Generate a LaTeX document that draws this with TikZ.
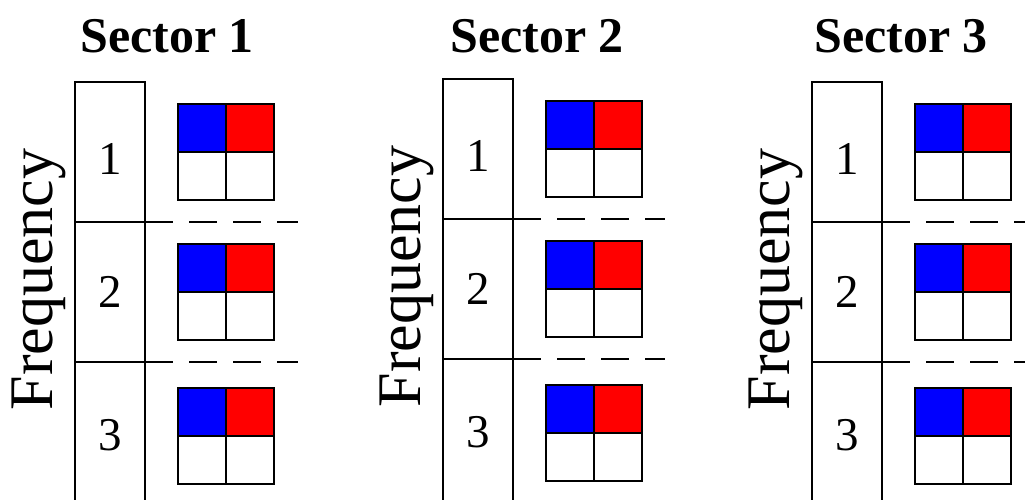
\documentclass[tikz,border=0pt]{standalone}
\usepackage{fontspec}
\setmainfont{Liberation Serif}
\begin{document}
\begin{tikzpicture}[x=1pt,y=-1pt,
  col/.style={line width=1.8pt},
  dsh/.style={line width=1.3pt, dash pattern=on 28pt off 16pt},
  cell/.style={draw, line width=1.8pt, minimum size=48pt, inner sep=0pt, outer sep=0pt},
  bluecell/.style={cell, fill={rgb,255:red,0;green,0;blue,255}},
  redcell/.style={cell, fill={rgb,255:red,255;green,0;blue,0}},
  num/.style={font=\fontsize{47}{47}\selectfont, inner sep=0pt},
  ttl/.style={font=\fontsize{50}{50}\selectfont\bfseries, inner sep=0pt, anchor=base},
  freq/.style={font=\fontsize{62}{62}\selectfont, inner sep=0pt, rotate=90, anchor=base}]
\useasboundingbox (0,0) rectangle (1025,499);
\clip (0,0) rectangle (1025,499);
\node[ttl] (title1) at (167,52) {Sector 1};
\node[ttl] (title2) at (537,52) {Sector 2};
\node[ttl] (title3) at (901,52) {Sector 3};
\foreach \s/\dx/\dy/\xe in {1/0/0/298, 2/368/-3/297, 3/737/0/300} {
  \begin{scope}[shift={(\dx,\dy)}]
    \node[freq] (freq\s) at (52,279.5) {Frequency};
    \draw[col] (75,520) -- (75,82) -- (145,82) -- (145,520);
    \draw[col] (75,222) -- (145,222);
    \draw[col] (75,362) -- (145,362);
    \coordinate (d\s a) at (145,222);
    \coordinate (e\s a) at (\xe,222);
    \coordinate (d\s b) at (145,362);
    \coordinate (e\s b) at (\xe,362);
    \draw[dsh] (d\s a) -- (e\s a);
    \draw[dsh] (d\s b) -- (e\s b);
    \node[num] (n\s-1) at (110,159) {1};
    \node[num] (n\s-2) at (110,292) {2};
    \node[num] (n\s-3) at (110,435) {3};
    \foreach \r/\t in {1/104, 2/244, 3/388} {
      \node[bluecell] (b\s-\r) at (202,\t+24) {};
      \node[redcell]  (r\s-\r) at (250,\t+24) {};
      \node[cell]     (wl\s-\r) at (202,\t+72) {};
      \node[cell]     (wr\s-\r) at (250,\t+72) {};
    }
  \end{scope}
}
\end{tikzpicture}
\end{document}
